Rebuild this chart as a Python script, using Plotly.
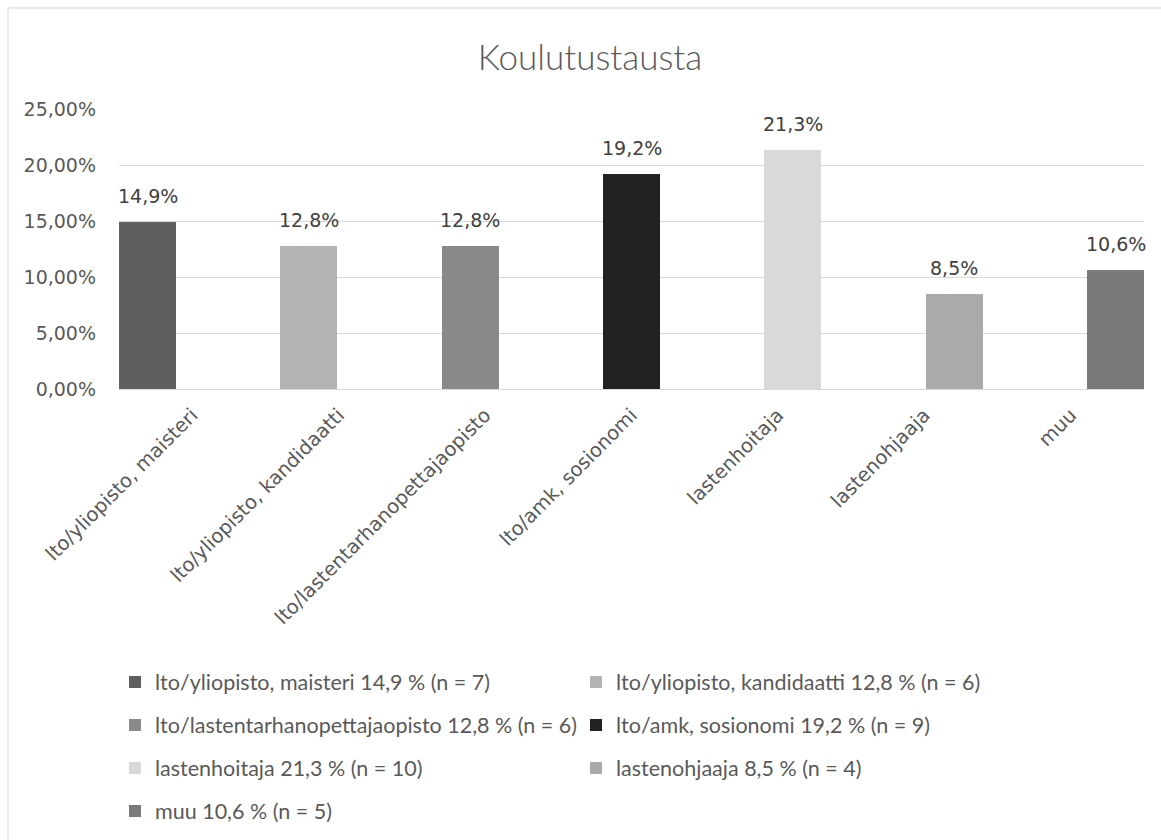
import plotly.graph_objects as go

# ---- data ----
categories = ["lto/yliopisto, maisteri", "lto/yliopisto, kandidaatti",
              "lto/lastentarhanopettajaopisto", "lto/amk, sosionomi",
              "lastenhoitaja", "lastenohjaaja", "muu"]
percent = [14.9, 12.8, 12.8, 19.2, 21.3, 8.5, 10.6]
counts = [7, 6, 6, 9, 10, 4, 5]
colors = ["#5f5f5f", "#b3b3b3", "#898989", "#222222", "#d9d9d9", "#aaaaaa", "#7a7a7a"]
y_ticks = [0, 0.05, 0.10, 0.15, 0.20, 0.25]
title = "Koulutustausta"

W, H = 1161, 840
L, R, T, B = 119, 1144, 109, 389

def fmt(v):
    return f"{v:.1f}".replace(".", ",")

ncat = len(categories)
bw = 57 / ((R - L) / ncat)          # bar width in category units
fig = go.Figure()
legend_rows = [(682, 0), (682, 1), (725, 0), (725, 1), (768, 0), (768, 1), (811, 0)]
legend_x = [115, 576]
for i, (c, p, n, col) in enumerate(zip(categories, percent, counts, colors)):
    xc = -0.5 + i * (ncat - bw) / (ncat - 1) + bw / 2
    lg = "legend" if i == 0 else f"legend{i+1}"
    fig.add_trace(go.Bar(
        x=[xc], y=[p / 100], width=bw, name=f"{c} {fmt(p)} % (n = {n})",
        marker=dict(color=col, line=dict(width=0)), legend=lg,
        hoverinfo="skip"))
    fig.add_annotation(x=xc, y=p / 100, text=f"{fmt(p)}%", showarrow=False,
                       yanchor="bottom", yshift=13,
                       font=dict(family="DejaVu Sans", size=19, color="#404040"))

layout_legends = {}
for i, (ry, cidx) in enumerate(legend_rows):
    key = "legend" if i == 0 else f"legend{i+1}"
    layout_legends[key] = dict(
        xref="container", yref="container",
        x=legend_x[cidx] / W, y=1 - ry / H,
        xanchor="left", yanchor="middle", bgcolor="rgba(0,0,0,0)",
        borderwidth=0, font=dict(family="Lato", size=21.5, color="#595959"))

fig.update_layout(
    width=W, height=H,
    margin=dict(l=L, r=W - R, t=T, b=H - B, autoexpand=False),
    paper_bgcolor="white", plot_bgcolor="white",
    separators=", ",
    showlegend=True,
    title=dict(text=title, x=590 / W, xref="container", y=1 - 58 / H, yanchor="middle",
               xanchor="center",
               font=dict(family="Lato", size=35, color="#595959", weight=300)),
    xaxis=dict(range=[-0.5, ncat - 0.5], tickvals=list(range(ncat)), ticktext=categories,
               tickangle=-45, showgrid=False, zeroline=False, showline=True,
               linecolor="#d9d9d9", linewidth=1, ticks="", automargin=False,
               ticklabelstandoff=6,
               tickfont=dict(family="DejaVu Sans", size=19.5, color="#595959")),
    yaxis=dict(range=[0, 0.25], tickvals=y_ticks, tickformat=".2%",
               showgrid=True, gridcolor="#d9d9d9", gridwidth=1, zeroline=False,
               showline=False, ticks="", ticklabelstandoff=22, automargin=False,
               tickfont=dict(family="DejaVu Sans", size=19, color="#595959")),
    bargap=0,
    **layout_legends,
)

# chart border (Excel chart area)
px = lambda v: (v - L) / (R - L)
py = lambda v: (B - v) / (B - T)
fig.add_shape(type="line", xref="paper", yref="paper", x0=px(8), x1=px(W + 20),
              y0=py(8), y1=py(8), line=dict(color="#d9d9d9", width=1))
fig.add_shape(type="line", xref="paper", yref="paper", x0=px(8), x1=px(8),
              y0=py(8), y1=py(H + 20), line=dict(color="#d9d9d9", width=1))

fig.write_html("out.html", config={"displayModeBar": False},
               post_script="document.body.style.margin='0px';")
